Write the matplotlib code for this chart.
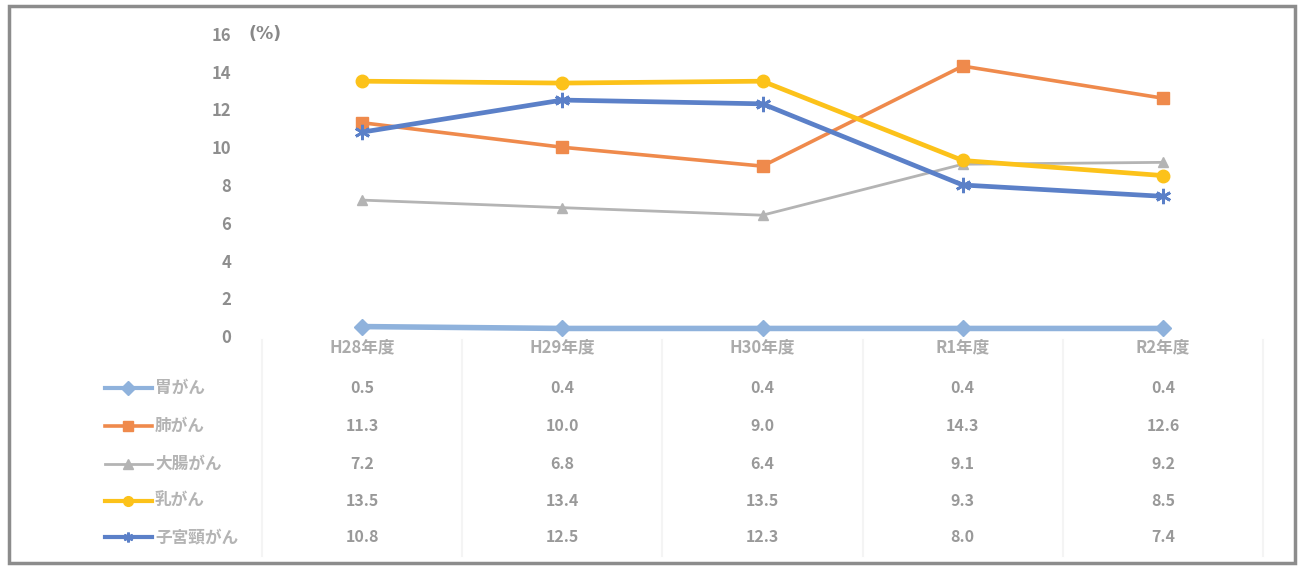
import matplotlib.pyplot as plt
from matplotlib.lines import Line2D
from matplotlib.patches import Rectangle

plt.rcParams['font.family'] = ['Noto Sans CJK JP', 'DejaVu Sans']

years = ["H28年度", "H29年度", "H30年度", "R1年度", "R2年度"]
names = ["胃がん", "肺がん", "大腸がん", "乳がん", "子宮頸がん"]
stomach = [0.5, 0.4, 0.4, 0.4, 0.4]
lung = [11.3, 10.0, 9.0, 14.3, 12.6]
colon = [7.2, 6.8, 6.4, 9.1, 9.2]
breast = [13.5, 13.4, 13.5, 9.3, 8.5]
cervix = [10.8, 12.5, 12.3, 8.0, 7.4]
series = [stomach, lung, colon, breast, cervix]

colors = ["#8fb2dc", "#ef8a4c", "#b4b4b4", "#fcc21a", "#5b80c8"]
markers = ["D", "s", "^", "o", (6, 2, 0)]
widths = [4, 2.6, 2, 3.4, 3.4]
msizes = [8, 8, 7, 9, 11]
txt = "#999999"

W, H = 1298, 566
fig = plt.figure(figsize=(W / 100, H / 100), dpi=100)
ax = fig.add_axes([262 / W, (H - 336) / H, 1001 / W, 302 / H])

x = range(len(years))
for vals, c, m, lw, ms in zip(series, colors, markers, widths, msizes):
    ax.plot(x, vals, color=c, marker=m, lw=lw, ms=ms, mew=2 if m == markers[-1] else 1,
            clip_on=False)

ax.set_xlim(-0.5, len(years) - 0.5)
ax.set_ylim(0, 16)
ax.set_yticks(range(0, 17, 2))
ax.set_xticks(list(x))
ax.set_xticklabels(years)
ax.tick_params(axis='y', length=0, pad=22, labelsize=12, labelcolor="#8e8e8e")
ax.tick_params(axis='x', length=0, pad=2, labelsize=12, labelcolor="#ababab")
for lbl in ax.get_yticklabels() + ax.get_xticklabels():
    lbl.set_fontweight('bold')
for s in ax.spines.values():
    s.set_visible(False)

fig.text(249 / W, 1 - 34 / H, "(%)", fontsize=12.5, fontweight='bold', color="#888888",
         ha='left', va='center', family=['DejaVu Sans'])

# data table below the plot
row_y = [388, 426, 464, 501, 537]
for vals, name, c, m, lw, py in zip(series, names, colors, markers, widths, row_y):
    fy = 1 - py / H
    fig.add_artist(Line2D([105 / W, 152 / W], [fy, fy], color=c, lw=min(lw, 3)))
    fig.add_artist(Line2D([128 / W], [fy], color=c, marker=m, ms=7, lw=0,
                          mew=2 if m == markers[-1] else 1))
    fig.text(155 / W, fy, name, fontsize=12, fontweight='bold', color="#b4b4b4",
             ha='left', va='center')
    for i, v in enumerate(vals):
        fx = (262 + 200.2 * (i + 0.5)) / W
        fig.text(fx, fy, f"{v:.1f}", fontsize=11.5, fontweight='bold', color=txt,
                 ha='center', va='center')

for i in range(len(years) + 1):
    fx = (262 + 200.2 * i) / W
    fig.add_artist(Line2D([fx, fx], [1 - 556 / H, 1 - 340 / H], color="#f4f4f4", lw=1.5))

fig.add_artist(Rectangle((9 / W, 3 / H), 1286 / W, 557 / H, transform=fig.transFigure,
                         fill=False, edgecolor="#8c8c8c", lw=2.5))

fig.savefig("out.png", dpi=100, facecolor="white")
